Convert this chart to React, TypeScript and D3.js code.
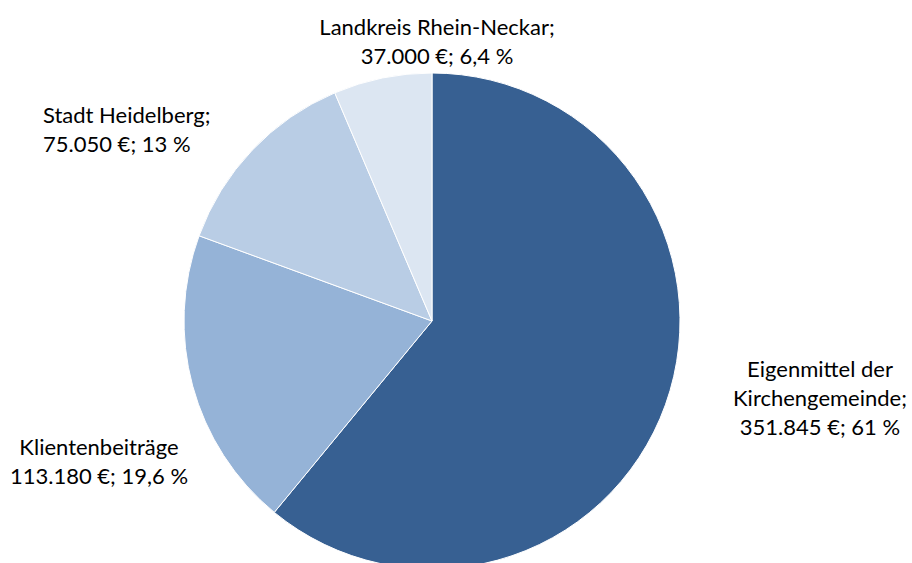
import React from "react";
import * as d3 from "d3";

const categories = [
  "Eigenmittel der Kirchengemeinde",
  "Klientenbeiträge",
  "Stadt Heidelberg",
  "Landkreis Rhein-Neckar",
];
const values = [351845, 113180, 75050, 37000];
const labelLines = [
  ["Eigenmittel der", "Kirchengemeinde;", "351.845 €; 61 %"],
  ["Klientenbeiträge", "113.180 €; 19,6 %"],
  ["Stadt Heidelberg;", "75.050 €; 13 %"],
  ["Landkreis Rhein-Neckar;", "37.000 €; 6,4 %"],
];
const colors = ["#376092", "#95B3D7", "#B9CDE5", "#DCE6F2"];

// label placement: [x, first baseline y, anchor]
const labelPos: [number, number, string][] = [
  [820, 377, "middle"],
  [99, 455, "middle"],
  [43, 123, "start"],
  [437, 35, "middle"],
];

export default function App() {
  const W = 912;
  const H = 563;
  const cx = 432;
  const cy = 321;
  const r = 248;
  const pie = d3.pie<number>().sort(null).value((d) => d)(values);
  const arc = d3.arc<d3.PieArcDatum<number>>().innerRadius(0).outerRadius(r);
  return (
    <svg
      width={W}
      height={H}
      style={{ position: "absolute", left: 0, top: 0, background: "#fff" }}
      fontFamily="Lato, 'Open Sans', sans-serif"
    >
      <g transform={`translate(${cx},${cy})`}>
        {pie.map((p, i) => (
          <path key={categories[i]} d={arc(p) || ""} fill={colors[i]} stroke="#fff" strokeWidth={1} />
        ))}
      </g>
      {labelLines.map((lines, i) => (
        <text
          key={i}
          x={labelPos[i][0]}
          y={labelPos[i][1]}
          textAnchor={labelPos[i][2] as any}
          fontSize={22}
          fill="#000"
        >
          {lines.map((l, j) => (
            <tspan key={j} x={labelPos[i][0]} dy={j === 0 ? 0 : 29}>
              {l}
            </tspan>
          ))}
        </text>
      ))}
    </svg>
  );
}
